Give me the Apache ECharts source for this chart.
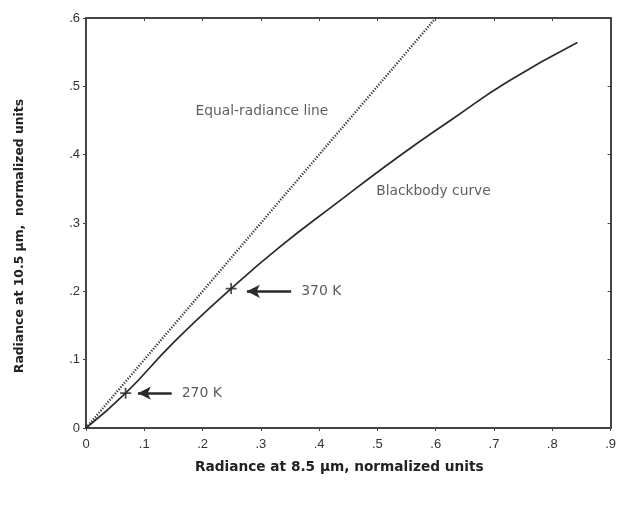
<!DOCTYPE html>
<html><head><meta charset="utf-8">
<script src="https://cdn.jsdelivr.net/npm/echarts@6/dist/echarts.min.js"></script>
<style>html,body{margin:0;padding:0;background:#fff}#c{width:619px;height:506px}</style>
</head><body><div id="c"></div>
<script>
// Blackbody curve (x: radiance at 8.5 um, y: radiance at 10.5 um)
const bbX = [0, 0.068, 0.15, 0.249, 0.331, 0.43, 0.536, 0.63, 0.724, 0.843];
const bbY = [0, 0.051, 0.125, 0.204, 0.264, 0.329, 0.397, 0.453, 0.507, 0.564];
// Equal-radiance line
const eqX = [0, 0.6];
const eqY = [0, 0.6];
// Temperature markers
const tempNames = ['270 K', '370 K'];
const tempX = [0.068, 0.249];
const tempY = [0.051, 0.204];
// Arrows (tail x, head x, y)
const arrowTailX = [0.147, 0.352];
const arrowHeadX = [0.089, 0.276];
const arrowY = [0.051, 0.2];
// Text annotations
const noteText = ['Equal-radiance line', 'Blackbody curve'];
const noteX = [0.188, 0.498];
const noteY = [0.464, 0.346];
const xTicks = ['0', '.1', '.2', '.3', '.4', '.5', '.6', '.7', '.8', '.9'];
const yTicks = ['0', '.1', '.2', '.3', '.4', '.5', '.6'];

const FONT = 'Liberation Sans, Arial, Helvetica, sans-serif';
const WFONT = 'DejaVu Sans, Liberation Sans, sans-serif';
const chart = echarts.init(document.getElementById('c'));
const fmt = arr => v => arr[Math.round(v * 10)];
const arrowLines = arrowY.map((y, i) => [
  { coord: [arrowTailX[i], y], symbol: 'none' },
  { coord: [arrowHeadX[i], y], symbol: 'arrow', symbolSize: [10, 13] }
]);
chart.setOption({
  backgroundColor: '#fff',
  animation: false,
  grid: { left: 86, right: 6, top: 18, bottom: 78, show: false },
  xAxis: [{
    type: 'value', min: 0, max: 0.9, interval: 0.1,
    name: 'Radiance at 8.5 \u00b5m, normalized units', nameLocation: 'middle', nameGap: 32,
    nameTextStyle: { fontFamily: WFONT, fontSize: 13.7, fontWeight: 'bold', color: '#222', padding: [0, 18, 0, 0] },
    axisLine: { show: true, onZero: false, lineStyle: { color: '#444', width: 2 } },
    axisTick: { show: true, length: 3, lineStyle: { color: '#444' } },
    axisLabel: { formatter: fmt(xTicks), fontFamily: FONT, fontSize: 13, color: '#333', margin: 10 },
    splitLine: { show: false }
  }, {
    type: 'value', min: 0, max: 0.9, interval: 0.1, position: 'top',
    axisLine: { show: true, onZero: false, lineStyle: { color: '#444', width: 2 } },
    axisTick: { show: true, inside: true, length: 3, lineStyle: { color: '#444' } },
    axisLabel: { show: false }, splitLine: { show: false }
  }],
  yAxis: [{
    type: 'value', min: 0, max: 0.6, interval: 0.1,
    name: 'Radiance at 10.5 \u00b5m,  normalized units', nameLocation: 'middle', nameGap: 60,
    nameTextStyle: { fontFamily: WFONT, fontSize: 12.4, fontWeight: 'bold', color: '#222', padding: [0, 26, 0, 0] },
    axisLine: { show: true, onZero: false, lineStyle: { color: '#444', width: 2 } },
    axisTick: { show: true, length: 3, lineStyle: { color: '#444' } },
    axisLabel: { formatter: fmt(yTicks), fontFamily: FONT, fontSize: 13, color: '#333', margin: 6 },
    splitLine: { show: false }
  }, {
    type: 'value', min: 0, max: 0.6, interval: 0.1, position: 'right',
    axisLine: { show: true, onZero: false, lineStyle: { color: '#444', width: 2 } },
    axisTick: { show: true, inside: true, length: 3, lineStyle: { color: '#444' } },
    axisLabel: { show: false }, splitLine: { show: false }
  }],
  series: [{
    name: 'Equal-radiance line', type: 'line', showSymbol: false,
    data: eqX.map((x, i) => [x, eqY[i]]),
    lineStyle: { color: '#333', width: 2.4, type: [1.2, 1.6] }
  }, {
    name: 'Blackbody curve', type: 'line', smooth: 0.5, showSymbol: false,
    data: bbX.map((x, i) => [x, bbY[i]]),
    lineStyle: { color: '#2a2a2a', width: 1.7 },
    markLine: {
      silent: true, animation: false,
      lineStyle: { color: '#2a2a2a', width: 2.5, type: 'solid' },
      label: { show: false },
      data: arrowLines
    }
  }, {
    name: 'Temperatures', type: 'scatter',
    data: tempX.map((x, i) => ({ value: [x, tempY[i]] })),
    symbol: 'path://M4.2,0H5.8V4.2H10V5.8H5.8V10H4.2V5.8H0V4.2H4.2Z',
    symbolSize: 11,
    itemStyle: { color: '#222' }
  }, {
    name: 'Temp labels', type: 'scatter',
    data: arrowTailX.map((x, i) => ({ value: [x, arrowY[i]], name: tempNames[i] })),
    symbolSize: 0,
    label: { show: true, position: 'right', distance: 10, formatter: p => p.name,
      fontFamily: WFONT, fontSize: 14, color: '#333' }
  }, {
    name: 'Notes', type: 'scatter',
    data: noteX.map((x, i) => ({ value: [x, noteY[i]], name: noteText[i] })),
    symbolSize: 0,
    label: { show: true, position: 'right', distance: 0, formatter: p => p.name,
      fontFamily: WFONT, fontSize: 13.8, color: '#333a2c' }
  }]
});
</script></body></html>
